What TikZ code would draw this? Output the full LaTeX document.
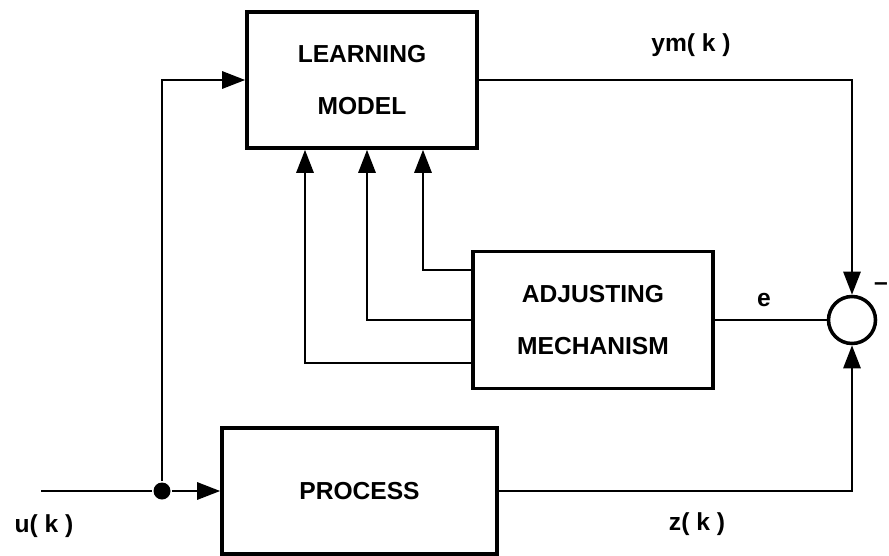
\documentclass[tikz,border=0pt]{standalone}
\usepackage{fontspec}
\setmainfont{Liberation Sans}
\usetikzlibrary{arrows.meta}

\begin{document}
\begin{tikzpicture}[
    >={Triangle[length=4.6mm,width=3.4mm]},
    line width=1.6pt,
    block/.style={draw, line width=2pt, align=center,
      font=\bfseries\fontsize{14}{29.6}\selectfont},
    lbl/.style={font=\bfseries\fontsize{14}{16}\selectfont}
  ]
      \useasboundingbox (0,0) rectangle (17.78,11.1);
      % blocks
      \node[block, minimum width=4.6cm, minimum height=2.72cm] (learn) at (7.24,9.5) {LEARNING\\MODEL};
      \node[block, minimum width=4.8cm, minimum height=2.74cm] (adjust) at (11.86,4.7) {ADJUSTING\\MECHANISM};
      \node[block, minimum width=5.5cm, minimum height=2.52cm] (process) at (7.19,1.28) {PROCESS};
      \node[draw, circle, line width=2pt, minimum size=0.94cm, inner sep=0pt] (sum) at (17.04,4.7) {};
      \node[fill, circle, minimum size=0.34cm, inner sep=0pt] (split) at (3.24,1.28) {};
      \coordinate (input) at (0.82,1.28);
      % signal names
      \node[lbl] (ulabel) at (0.88,0.58) {u( k )};
      \node[lbl] (ymlabel) at (13.82,10.2) {ym( k )};
      \node[lbl] (zlabel) at (13.94,0.62) {z( k )};
      \node[lbl] (elabel) at (15.28,5.1) {e};
      \node[lbl] (minus) at (17.62,5.36) {--};
      % connections
      \draw (input) -- (split);
      \draw[->] (split) -- (process.west);
      \draw[->] (split) |- (learn.west);
      \draw[->] (learn.east) -| (sum.north);
      \draw[->] (process.east) -| (sum.south);
      \draw (adjust.east) -- (sum.west);
      % adjustments fed back to the model
      \draw[->] ([yshift=1cm]adjust.west) -| ([xshift=1.22cm]learn.south);
      \draw[->] (adjust.west) -| ([xshift=0.1cm]learn.south);
      \draw[->] ([yshift=-0.86cm]adjust.west) -| ([xshift=-1.14cm]learn.south);
    \end{tikzpicture}
\end{document}
